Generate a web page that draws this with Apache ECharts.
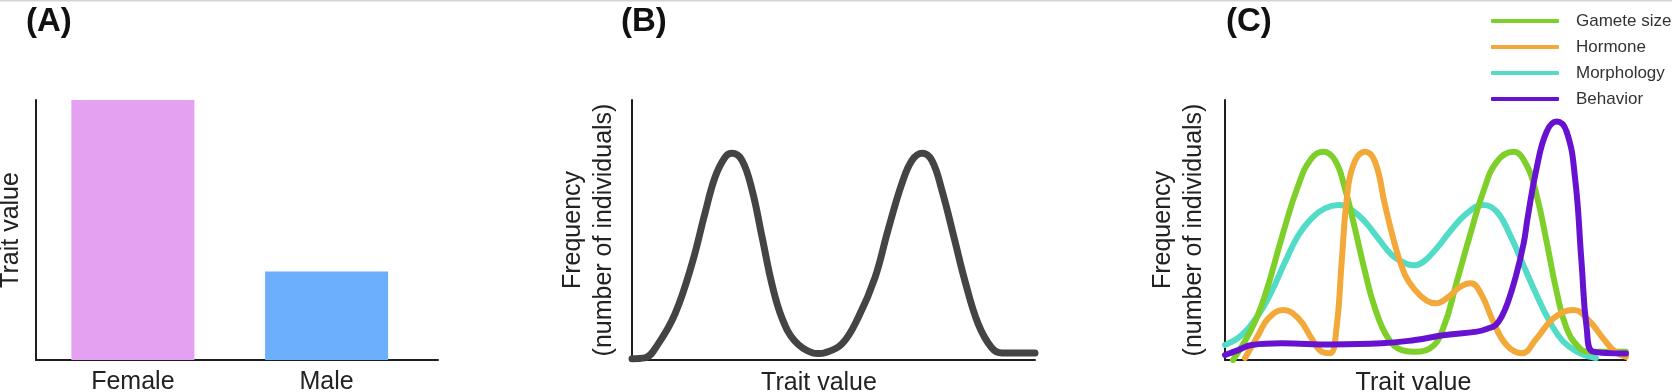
<!DOCTYPE html>
<html>
<head>
<meta charset="utf-8">
<script src="https://cdn.jsdelivr.net/npm/echarts@6/dist/echarts.min.js"></script>
<style>
html,body{margin:0;padding:0;background:#fff;}
#chart{width:1672px;height:392px;}
</style>
</head>
<body>
<div id="chart"></div>
<script>
// ---------- Panel A ----------
var sexCategories = ['Female', 'Male'];
var sexTraitValues = [100, 34];
var sexColors = ['#e4a1f2', '#6cb0fc'];

// ---------- Panel B ----------
var bTrait = [0, 3.2, 6.5, 10.7, 14.9, 18.1, 20.6, 23.1, 24.8, 27.3, 29.8, 32.3, 34.7, 37.2, 40.4, 44.7, 46.3, 47.9, 52.1, 56.1, 60.3, 63.5, 67.0, 69.5, 72.0, 74.4, 76.9, 80.1, 82.6, 85.9, 89.3, 91.8, 100];
var bFreq  = [0.5, 0.8, 6.2, 17.8, 37.1, 56.4, 70.3, 78, 79.5, 76.8, 65.3, 47.1, 29.3, 16.2, 7.3, 2.8, 2.5, 2.8, 6.2, 16.2, 31.7, 49.8, 68, 76.8, 79.5, 76.8, 65.3, 45.9, 30.5, 13.9, 4.6, 2.7, 2.7];

// ---------- Panel C ----------
var seriesNames = ['Gamete size', 'Hormone', 'Morphology', 'Behavior'];

var gameteTrait = [2, 6.7, 10, 14.1, 18.3, 21.6, 24.5, 27.4, 29.9, 32.4, 34.9, 37.4, 40.7, 44.1, 46.8, 51.1, 54.4, 57.8, 61.1, 64.4, 67.8, 71.9, 75.2, 77.7, 80.2, 82.7, 85.2, 88.5, 91, 100];
var gameteFreq  = [0, 12.2, 25, 46.8, 67.3, 77.6, 80.1, 76.9, 66, 50.6, 34, 19.9, 8.3, 3.8, 3.2, 4.5, 12.2, 30.1, 48, 64.7, 76.3, 80.1, 75, 63.5, 45.5, 26.3, 12.2, 4.5, 3.2, 3.2];

var hormoneTrait = [5, 8.3, 10.8, 14.5, 18.3, 21.6, 24.1, 26.2, 27.8, 29.1, 30.3, 32, 34.9, 37.4, 39.9, 42.4, 44.9, 47.4, 50.3, 52.6, 55.5, 58.5, 61.3, 64, 66.9, 70.2, 74, 77.7, 81.9, 86.9, 91, 94.3, 97.3, 100];
var hormoneFreq  = [0.8, 9.6, 16, 19.2, 16, 8.3, 3.2, 2.6, 12.2, 37.8, 60.9, 75, 80.1, 76.3, 59.6, 44.2, 32.7, 26.9, 22.8, 21.8, 24, 28, 29.5, 25, 14.7, 5.8, 2.6, 8.3, 16, 19.2, 14.7, 8.3, 3.2, 1.2];

var morphTrait = [0, 4.2, 8.3, 11.6, 15, 18.3, 21.6, 24.9, 28.3, 31.6, 34.9, 38.2, 41.6, 44.9, 47, 49.5, 52.8, 56.1, 60.3, 64.4, 67.8, 71.1, 74.4, 77.7, 81, 84.4, 88.5, 91, 92.5];
var morphFreq  = [5.8, 9.6, 17.3, 26.3, 37.8, 48, 54.5, 58.3, 59.6, 57.7, 53.2, 46.8, 40.4, 37.2, 36.4, 37.8, 43, 49.4, 56.4, 59.6, 57, 48, 36.5, 25, 14.7, 7, 2.6, 1.3, 0.8];

var behavTrait = [0, 3.3, 6.7, 14.1, 26.6, 39.1, 47.4, 54.9, 62.8, 65.7, 67.5, 69, 70.5, 72.5, 74.5, 75.5, 77.7, 80.2, 82.7, 85.2, 87.3, 88.9, 90.2, 91.8, 100];
var behavFreq  = [1.9, 3.8, 5.8, 6.4, 6, 6.4, 7.7, 9.6, 10.9, 12.2, 13.5, 16.7, 22, 32, 45, 55, 73.7, 87.8, 91.7, 87.8, 69.9, 37.8, 12.2, 3.2, 2.5];

function zip(xs, ys) { return xs.map(function (x, i) { return [x, ys[i]]; }); }

var FONT = "'Liberation Sans', Arial, Helvetica, sans-serif";
var AXIS_LINE = { show: true, lineStyle: { color: '#1e1e1e', width: 2 } };

var chart = echarts.init(document.getElementById('chart'), null, { renderer: 'canvas' });

var barPos = sexCategories.map(function (c, i) { return 1 + 2 * i; });

var option = {
  animation: false,
  backgroundColor: '#ffffff',
  textStyle: { fontFamily: FONT },
  graphic: [
    { type: 'line', shape: { x1: 0, y1: 0.5, x2: 1672, y2: 0.5 }, style: { stroke: '#d4d4d4', lineWidth: 2 }, silent: true },
    { type: 'text', left: 26, top: 5, style: { text: '(A)', font: 'bold 33px ' + FONT, fill: '#111' } },
    { type: 'text', left: 621, top: 5, style: { text: '(B)', font: 'bold 33px ' + FONT, fill: '#111' } },
    { type: 'text', left: 1226, top: 5, style: { text: '(C)', font: 'bold 33px ' + FONT, fill: '#111' } }
  ],
  legend: {
    data: seriesNames,
    orient: 'vertical',
    left: 1491,
    top: 11,
    padding: 0,
    icon: 'roundRect',
    itemWidth: 68,
    itemHeight: 4,
    itemGap: 6,
    textStyle: { fontSize: 17, color: '#333', fontFamily: FONT, lineHeight: 20, padding: [0, 0, 0, 12] },
    selectedMode: false
  },
  grid: [
    { left: 36, top: 100, width: 402, height: 260, outerBoundsMode: 'none', containLabel: false },
    { left: 632, top: 100, width: 403, height: 260, outerBoundsMode: 'none', containLabel: false },
    { left: 1225, top: 100, width: 401, height: 260, outerBoundsMode: 'none', containLabel: false }
  ],
  xAxis: [
    {
      gridIndex: 0, type: 'value', min: 0, max: 4.15, interval: 1,
      axisLine: AXIS_LINE, axisTick: { show: false }, splitLine: { show: false },
      axisLabel: {
        margin: 10, fontSize: 25, color: '#222', fontFamily: FONT, lineHeight: 25,
        showMaxLabel: false,
        formatter: function (v) { var i = barPos.indexOf(v); return i >= 0 ? sexCategories[i] : ''; }
      }
    },
    {
      gridIndex: 1, type: 'value', min: 0, max: 100,
      axisLine: AXIS_LINE, axisTick: { show: false }, splitLine: { show: false }, axisLabel: { show: false },
      name: 'Trait value', nameLocation: 'middle', nameGap: 10.5,
      nameTextStyle: { fontSize: 25, color: '#222', fontFamily: FONT, lineHeight: 25, padding: [0, 29, 0, 0] }
    },
    {
      gridIndex: 2, type: 'value', min: 0, max: 100,
      axisLine: AXIS_LINE, axisTick: { show: false }, splitLine: { show: false }, axisLabel: { show: false },
      name: 'Trait value', nameLocation: 'middle', nameGap: 10.5,
      nameTextStyle: { fontSize: 25, color: '#222', fontFamily: FONT, lineHeight: 25, padding: [0, 24, 0, 0] }
    }
  ],
  yAxis: [
    {
      gridIndex: 0, type: 'value', min: 0, max: 100,
      axisLine: AXIS_LINE, axisTick: { show: false }, splitLine: { show: false }, axisLabel: { show: false },
      name: 'Trait value', nameLocation: 'middle', nameGap: 10, nameRotate: 90,
      nameTextStyle: { fontSize: 25, color: '#222', fontFamily: FONT, lineHeight: 30 }
    },
    {
      gridIndex: 1, type: 'value', min: 0, max: 100,
      axisLine: AXIS_LINE, axisTick: { show: false }, splitLine: { show: false }, axisLabel: { show: false },
      name: 'Frequency\n(number of individuals)', nameLocation: 'middle', nameGap: 12, nameRotate: 90,
      nameTextStyle: { fontSize: 25, color: '#222', fontFamily: FONT, lineHeight: 31 }
    },
    {
      gridIndex: 2, type: 'value', min: 0, max: 100,
      axisLine: AXIS_LINE, axisTick: { show: false }, splitLine: { show: false }, axisLabel: { show: false },
      name: 'Frequency\n(number of individuals)', nameLocation: 'middle', nameGap: 15, nameRotate: 90,
      nameTextStyle: { fontSize: 25, color: '#222', fontFamily: FONT, lineHeight: 31 }
    }
  ],
  series: [
    {
      type: 'bar', xAxisIndex: 0, yAxisIndex: 0, barWidth: 123, z: 1,
      data: sexTraitValues.map(function (v, i) { return { value: [barPos[i], v], itemStyle: { color: sexColors[i] } }; })
    },
    {
      type: 'line', xAxisIndex: 1, yAxisIndex: 1, symbol: 'none', smooth: 0.4, z: 3,
      lineStyle: { color: '#444444', width: 7, cap: 'round', join: 'round' },
      data: zip(bTrait, bFreq)
    },
    {
      name: 'Morphology', type: 'line', xAxisIndex: 2, yAxisIndex: 2, symbol: 'none', smooth: 0.45, z: 2,
      color: '#52dcc8', lineStyle: { color: '#52dcc8', width: 6, cap: 'round', join: 'round' },
      data: zip(morphTrait, morphFreq)
    },
    {
      name: 'Gamete size', type: 'line', xAxisIndex: 2, yAxisIndex: 2, symbol: 'none', smooth: 0.45, z: 3,
      color: '#7fcf2b', lineStyle: { color: '#7fcf2b', width: 6, cap: 'round', join: 'round' },
      data: zip(gameteTrait, gameteFreq)
    },
    {
      name: 'Hormone', type: 'line', xAxisIndex: 2, yAxisIndex: 2, symbol: 'none', smooth: 0.45, z: 4,
      color: '#f2a93a', lineStyle: { color: '#f2a93a', width: 6, cap: 'round', join: 'round' },
      data: zip(hormoneTrait, hormoneFreq)
    },
    {
      name: 'Behavior', type: 'line', xAxisIndex: 2, yAxisIndex: 2, symbol: 'none', smooth: 0.45, z: 5,
      color: '#6612d0', lineStyle: { color: '#6612d0', width: 6, cap: 'round', join: 'round' },
      data: zip(behavTrait, behavFreq)
    }
  ]
};
chart.setOption(option);
</script>
</body>
</html>
